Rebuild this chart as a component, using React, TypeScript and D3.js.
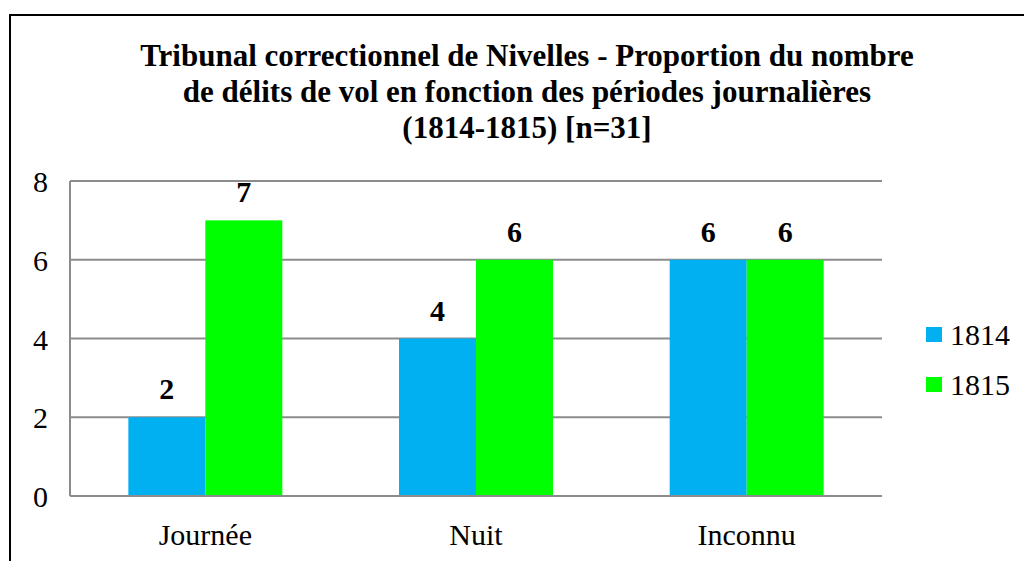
import React, { useRef, useEffect } from 'react';
import * as d3 from 'd3';

// chart data
const categories = ['Journée', 'Nuit', 'Inconnu'];
const seriesNames = ['1814', '1815'];
const values1814 = [2, 4, 6];
const values1815 = [7, 6, 6];
const yTicks = [0, 2, 4, 6, 8];
const titleLines = [
  'Tribunal correctionnel de Nivelles - Proportion du nombre',
  'de délits de vol en fonction des périodes journalières',
  '(1814-1815) [n=31]',
];

const colors = ['#00B0F0', '#00FF00'];
const FONT = 'Times New Roman';

const App = () => {
  const svgRef = useRef<SVGSVGElement>(null);

  useEffect(() => {
    const W = 1024;
    const H = 561;
    const plot = { left: 70, right: 882, top: 181, bottom: 496 };

    const svg = d3.select(svgRef.current);
    svg.selectAll('*').remove();
    svg.attr('width', W).attr('height', H)
      .attr('font-family', FONT);

    svg.append('rect')
      .attr('width', W).attr('height', H).attr('fill', '#fff');

    // outer frame (continues past right and bottom edges)
    svg.append('rect')
      .attr('x', 10).attr('y', 15)
      .attr('width', 1030).attr('height', 600)
      .attr('fill', 'none').attr('stroke', '#000').attr('stroke-width', 2);

    // title
    svg.append('text')
      .attr('text-anchor', 'middle')
      .attr('font-size', 31)
      .attr('font-weight', 'bold')
      .selectAll('tspan')
      .data(titleLines)
      .enter()
      .append('tspan')
      .attr('x', 527)
      .attr('y', (d, i) => 66 + i * 36)
      .text(d => d);

    const x0 = d3.scaleBand()
      .domain(categories)
      .range([plot.left, plot.right])
      .paddingInner(0)
      .paddingOuter(0);

    const x1 = d3.scaleBand()
      .domain(seriesNames)
      .range([0, x0.bandwidth()])
      .paddingInner(0)
      .paddingOuter(0.758);

    const y = d3.scaleLinear()
      .domain([0, 8])
      .range([plot.bottom, plot.top]);

    // gridlines
    svg.append('g')
      .selectAll('line')
      .data(yTicks)
      .enter()
      .append('line')
      .attr('x1', plot.left)
      .attr('x2', plot.right)
      .attr('y1', d => y(d))
      .attr('y2', d => y(d))
      .attr('stroke', '#8c8c8c')
      .attr('stroke-width', 2);

    // y tick labels
    svg.append('g')
      .selectAll('text')
      .data(yTicks)
      .enter()
      .append('text')
      .attr('x', 48)
      .attr('y', d => y(d) + 11)
      .attr('text-anchor', 'end')
      .attr('font-size', 30)
      .text(d => d);

    const rows = categories.map((c, i) => ({
      cat: c,
      vals: [values1814[i], values1815[i]],
    }));

    const groups = svg.append('g')
      .selectAll('g')
      .data(rows)
      .enter()
      .append('g')
      .attr('transform', d => `translate(${x0(d.cat)},0)`);

    groups.selectAll('rect')
      .data(d => d.vals.map((v, j) => ({ key: seriesNames[j], v, j })))
      .enter()
      .append('rect')
      .attr('x', d => x1(d.key)!)
      .attr('y', d => y(d.v))
      .attr('width', x1.bandwidth())
      .attr('height', d => plot.bottom - y(d.v))
      .attr('fill', d => colors[d.j]);

    groups.selectAll('text')
      .data(d => d.vals.map((v, j) => ({ key: seriesNames[j], v, j })))
      .enter()
      .append('text')
      .attr('x', d => x1(d.key)! + x1.bandwidth() / 2)
      .attr('y', d => y(d.v) - 18)
      .attr('text-anchor', 'middle')
      .attr('font-size', 30)
      .attr('font-weight', 'bold')
      .text(d => d.v);

    // axes lines
    svg.append('line')
      .attr('x1', plot.left).attr('x2', plot.left)
      .attr('y1', plot.top).attr('y2', plot.bottom)
      .attr('stroke', '#8c8c8c').attr('stroke-width', 2);
    svg.append('line')
      .attr('x1', plot.left).attr('x2', plot.right)
      .attr('y1', plot.bottom).attr('y2', plot.bottom)
      .attr('stroke', '#8c8c8c').attr('stroke-width', 2);

    // category labels
    svg.append('g')
      .selectAll('text')
      .data(categories)
      .enter()
      .append('text')
      .attr('x', d => x0(d)! + x0.bandwidth() / 2)
      .attr('y', 545)
      .attr('text-anchor', 'middle')
      .attr('font-size', 30)
      .text(d => d);

    // legend
    const legend = svg.append('g')
      .selectAll('g')
      .data(seriesNames)
      .enter()
      .append('g')
      .attr('transform', (d, i) => `translate(926,${327 + i * 50})`);

    legend.append('rect')
      .attr('width', 16).attr('height', 15)
      .attr('fill', (d, i) => colors[i]);

    legend.append('text')
      .attr('x', 24)
      .attr('y', 18)
      .attr('font-size', 30)
      .text(d => d);
  }, []);

  return (
    <svg
      ref={svgRef}
      style={{ position: 'fixed', top: 0, left: 0, display: 'block' }}
    ></svg>
  );
};

export default App;
